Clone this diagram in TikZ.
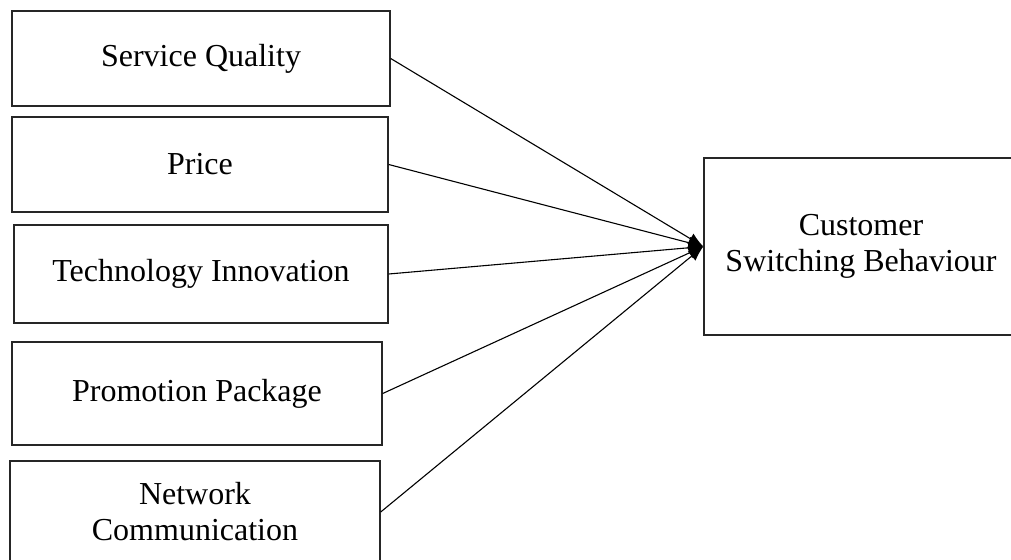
\documentclass[tikz,border=0pt]{standalone}
\usepackage{fontspec}
\setmainfont{Liberation Serif}
\usetikzlibrary{arrows.meta}
\begin{document}
\begin{tikzpicture}[x=1pt,y=-1pt,
  box/.style={draw=black!85, line width=1.4pt, rectangle, inner sep=0pt, align=center,
    font=\fontsize{32}{36}\selectfont},
  link/.style={line width=1.1pt, -{Latex[length=15pt,width=12pt]}}]
\useasboundingbox (0,0) rectangle (1011,559);
\node[box, minimum width=378pt, minimum height=95pt] (sq) at (201,58.5) {Service Quality};
\node[box, minimum width=376pt, minimum height=95pt] (pr) at (200,164.5) {Price};
\node[box, minimum width=374pt, minimum height=98pt] (ti) at (201,274) {Technology Innovation};
\node[box, minimum width=370pt, minimum height=103pt] (pp) at (197,393.5) {Promotion Package};
\node[box, minimum width=370pt, minimum height=102pt] (nc) at (195,512) {\raisebox{-2pt}{\parbox{360pt}{\centering Network\\Communication}}};
\node[box, minimum width=314pt, minimum height=177pt] (cs) at (861,246.5) {\raisebox{-4pt}{\parbox{310pt}{\centering Customer\\Switching Behaviour}}};
\foreach \n in {sq,pr,ti,pp,nc}
  \draw[link] (\n.east) -- (cs.west);
\end{tikzpicture}
\end{document}
